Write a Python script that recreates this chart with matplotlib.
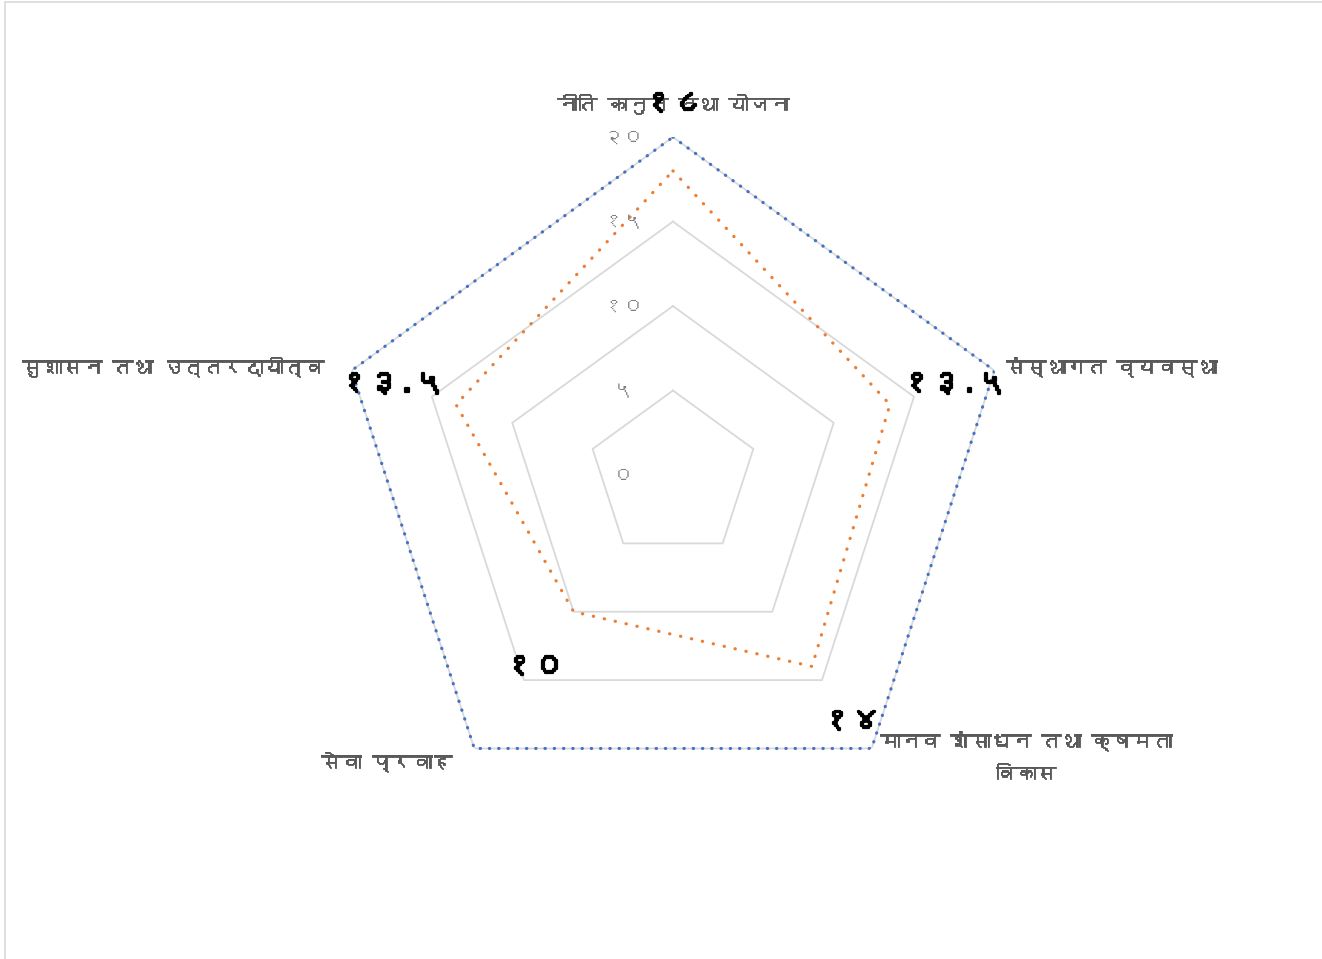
import numpy as np
import matplotlib
matplotlib.use("Agg")
import matplotlib.pyplot as plt
import matplotlib.patheffects as pe
from matplotlib import font_manager
from matplotlib.ft2font import FT2Font

# data
categories = ["नीति कानुन तथा योजना", "संस्थागत व्यवस्था", "मानव शंसाधन तथा क्षमता\nविकास",
              "सेवा प्रवाह", "सुशासन तथा उत्तरदायीत्व"]
target = [20, 20, 20, 20, 20]
score = [18, 13.5, 14, 10, 13.5]
score_labels = ["१८", "१३.५", "१४", "१०", "१३.५"]
ticks = [0, 5, 10, 15, 20]
tick_labels = ["०", "५", "१०", "१५", "२०"]

# find a font that has devanagari glyphs
deva = None
for f in font_manager.fontManager.ttflist:
    try:
        if 0x0928 in FT2Font(f.fname).get_charmap():
            deva = f.name
            break
    except Exception:
        pass
fams = ([deva] if deva else []) + ["DejaVu Sans"]
plt.rcParams["font.family"] = fams

fig = plt.figure(figsize=(13.22, 9.59), dpi=100)
fig.patches.append(plt.Rectangle((0.004, -0.01), 1.2, 1.008, transform=fig.transFigure,
                                 fill=False, edgecolor="#d9d9d9", lw=1.2))
ax = fig.add_axes([0.2534, 0.1522, 0.5113, 0.7049], projection="polar")
ax.set_theta_zero_location("N")
ax.set_theta_direction(-1)
ax.set_ylim(0, 20)
ax.grid(False)
ax.spines["polar"].set_visible(False)
ax.set_xticks([])
ax.set_yticks([])

n = len(categories)
ang = np.linspace(0, 2 * np.pi, n, endpoint=False)
angc = np.append(ang, ang[0])

# pentagon gridlines
for t in ticks[1:]:
    ax.plot(angc, [t] * (n + 1), color="#d9d9d9", lw=1.3, zorder=1)

ax.plot(angc, target + target[:1], color="#4472C4", lw=2.3, linestyle=(0, (0.1, 2.8)),
        dash_capstyle="round", zorder=3)
ax.plot(angc, score + score[:1], color="#ED7D31", lw=2.3, linestyle=(0, (0.1, 3.4)),
        dash_capstyle="round", zorder=3)

for t, lab in zip(ticks, tick_labels):
    ax.annotate(lab, (0, t), xytext=(-36, 0), textcoords="offset points",
                ha="center", va="center", fontsize=15, color="#7f7f7f")

bold = [pe.withStroke(linewidth=1.6, foreground="black")]
for a, v, lab in zip(ang, score, score_labels):
    ax.text(a, v + 4, lab, ha="center", va="center", fontsize=22, color="black",
            path_effects=bold, zorder=5)

semi = [pe.withStroke(linewidth=0.6, foreground="#595959")]
lab_pos = [((0, 24), "center", "center"), ((8, 3), "left", "center"), ((6, 13), "left", "top"),
           ((-16, -2), "right", "top"), ((-20, 3), "right", "center")]
for a, txt, (off, ha, va) in zip(ang, categories, lab_pos):
    ax.annotate(txt, (a, 20), xytext=off, textcoords="offset points", ha=ha, va=va,
                fontsize=14.5, color="#595959", multialignment="center", linespacing=2.0,
                path_effects=semi)

fig.savefig("out.png", dpi=100)
